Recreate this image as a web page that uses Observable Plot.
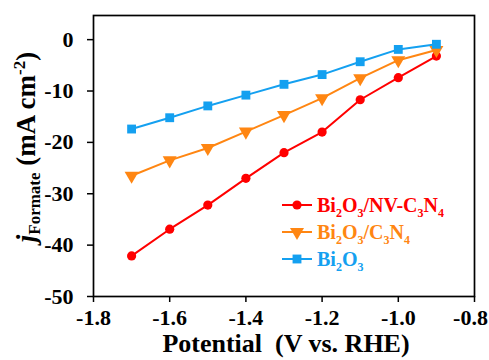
<!DOCTYPE html>
<html>
<head>
<meta charset="utf-8">
<script src="https://cdn.jsdelivr.net/npm/d3@7"></script>
<script src="https://cdn.jsdelivr.net/npm/@observablehq/plot@0.6"></script>
<style>
  html, body { margin: 0; padding: 0; background: #fff; }
  #chart svg { display: block; }
  #chart svg, #chart svg text, #chart svg tspan {
    font-family: "Liberation Serif", "Times New Roman", serif !important;
    font-weight: bold;
  }
</style>
</head>
<body>
<div id="chart"></div>
<script>
// Formate partial current density vs. applied potential
const potential = [-1.7, -1.6, -1.5, -1.4, -1.3, -1.2, -1.1, -1.0, -0.9];
const jNvC3N4 = [-42.1, -36.9, -32.2, -27.0, -22.0, -18.0, -11.7, -7.4, -3.2];
const jC3N4 = [-26.5, -23.5, -21.1, -17.9, -14.7, -11.4, -7.5, -4.0, -2.0];
const jBi2O3 = [-17.4, -15.2, -12.9, -10.8, -8.7, -6.8, -4.3, -1.9, -0.9];

const xTicks = [-1.8, -1.6, -1.4, -1.2, -1.0, -0.8];
const yTicks = [-50, -40, -30, -20, -10, 0];

const series = [
  {name: "nv", values: jNvC3N4, color: "#ff0000", symbol: "circle", rotate: 0, r: 4.6,
   label: [["Bi", 0], ["2", 1], ["O", 0], ["3", 1], ["/NV-C", 0], ["3", 1], ["N", 0], ["4", 1]]},
  {name: "c3n4", values: jC3N4, color: "#ff8612", symbol: "triangle", rotate: 180, r: 5.2,
   label: [["Bi", 0], ["2", 1], ["O", 0], ["3", 1], ["/C", 0], ["3", 1], ["N", 0], ["4", 1]]},
  {name: "bi2o3", values: jBi2O3, color: "#14a0f0", symbol: "square", rotate: 0, r: 5,
   label: [["Bi", 0], ["2", 1], ["O", 0], ["3", 1]]}
];

const rows = series.flatMap(s => potential.map((p, i) => ({series: s.name, x: p, y: s.values[i]})));

const marks = [];
for (const s of series) {
  const d = rows.filter(r => r.series === s.name);
  marks.push(Plot.line(d, {x: "x", y: "y", stroke: s.color, strokeWidth: 2}));
  marks.push(Plot.dot(d, {x: "x", y: "y", fill: s.color, symbol: s.symbol, r: s.r, rotate: s.rotate}));
}

const xFmt = d => d.toFixed(1);
const lastX = xTicks[xTicks.length - 1];

const chart = Plot.plot({
  width: 489,
  height: 360,
  marginLeft: 93,
  marginRight: 15,
  marginTop: 15,
  marginBottom: 64,
  style: {fontFamily: "Liberation Serif, serif", fontWeight: "bold", fontSize: "22px", color: "#000", background: "#fff"},
  x: {domain: [-1.8, -0.8]},
  y: {domain: [-50, 4.7]},
  marks: [
    Plot.axisX({ticks: xTicks, tickSize: 6, tickPadding: 7, strokeWidth: 1.5, label: null,
                tickFormat: d => d === lastX ? "" : xFmt(d)}),
    // the last label sits a little left so it stays inside the page
    Plot.axisX({ticks: [lastX], tickSize: 0, tickPadding: 13, dx: -4, label: null, tickFormat: xFmt}),
    Plot.axisY({ticks: yTicks, tickSize: 6, tickPadding: 14, tickFormat: d => String(d), label: null, strokeWidth: 1.5}),
    ...marks,
    Plot.frame({stroke: "#000", strokeWidth: 1.7})
  ]
});

document.getElementById("chart").appendChild(chart);

const svg = d3.select(chart);

// x-axis title
svg.append("text")
  .attr("x", 286).attr("y", 352)
  .attr("text-anchor", "middle")
  .style("font-size", "26px")
  .style("white-space", "pre")
  .text("Potential  (V vs. RHE)");

// y-axis title: j_Formate (mA cm^-2)
const yt = svg.append("text")
  .attr("transform", "translate(35,147) rotate(-90)")
  .attr("text-anchor", "middle")
  .style("font-size", "27px");
yt.append("tspan").style("font-style", "italic").text("j");
yt.append("tspan").attr("dy", 5).style("font-size", "17px").text("Formate");
yt.append("tspan").attr("dy", -5).style("white-space", "pre").text(" (mA cm");
yt.append("tspan").attr("dy", -10).style("font-size", "17px").text("-2");
yt.append("tspan").attr("dy", 10).text(")");

// legend
const legendY = [205, 232, 259];
series.forEach((s, i) => {
  const g = svg.append("g").attr("transform", `translate(0,${legendY[i]})`);
  g.append("line").attr("x1", 282).attr("x2", 312).attr("y1", 0).attr("y2", 0)
    .attr("stroke", s.color).attr("stroke-width", 2);
  const sym = {circle: d3.symbolCircle, triangle: d3.symbolTriangle, square: d3.symbolSquare}[s.symbol];
  g.append("path")
    .attr("d", d3.symbol(sym, Math.PI * s.r * s.r)())
    .attr("transform", `translate(297,0) rotate(${s.rotate})`)
    .attr("fill", s.color);
  const t = g.append("text").attr("x", 317).attr("y", 7)
    .attr("text-anchor", "start")
    .attr("fill", s.color)
    .style("font-size", "20px");
  let shifted = false;
  for (const [str, sub] of s.label) {
    const ts = t.append("tspan").text(str);
    if (sub && !shifted) { ts.attr("dy", 5).style("font-size", "12px"); shifted = true; }
    else if (sub) { ts.style("font-size", "12px"); }
    else if (shifted) { ts.attr("dy", -5); shifted = false; }
  }
});
</script>
</body>
</html>
